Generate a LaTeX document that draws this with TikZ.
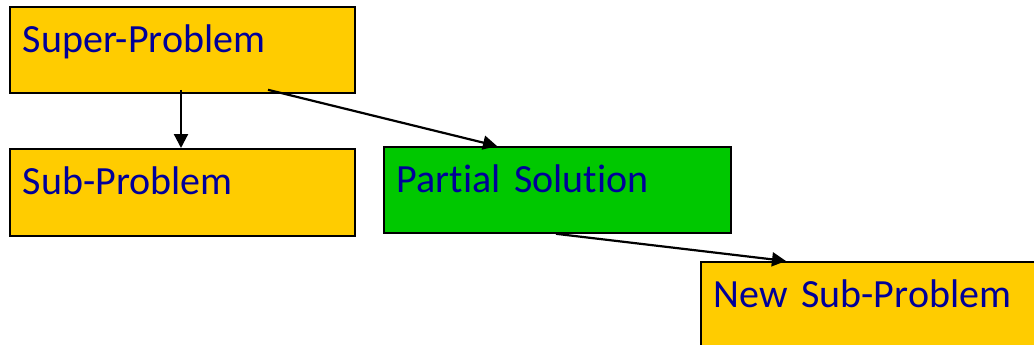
\documentclass[tikz,border=0pt]{standalone}
\usepackage{fontspec}
\setmainfont{Carlito}[Ligatures=CommonOff, WordSpace=0.65]
\usetikzlibrary{arrows.meta}
\definecolor{boxyellow}{RGB}{255,204,0}
\definecolor{boxgreen}{RGB}{0,200,0}
\definecolor{txtblue}{RGB}{0,0,153}
\tikzset{
  probbox/.style={draw=black, line width=1.8pt, anchor=north west, inner xsep=13pt, inner ysep=0pt,
    text height=46pt, text depth=40pt, align=left, text=txtblue,
    font=\fontsize{40}{48}\selectfont},
  arr/.style={draw=black, line width=2.2pt, -{Triangle[length=14pt,width=14pt]}}
}
\begin{document}
\begin{tikzpicture}[x=1pt,y=-1pt]
\useasboundingbox (0,0) rectangle (1034,345);
\clip (0,0) rectangle (1034,345);
\node[probbox, fill=boxyellow, text width=319pt] (sup) at (9,6) {Super-Problem};
\node[probbox, fill=boxyellow, text width=319pt, text depth=41pt] (sub) at (9,148) {Sub-Problem};
\node[probbox, fill=boxgreen, text width=321pt] (ps) at (383,146) {Partial Solution};
\node[probbox, fill=boxyellow, text width=321pt] (nsp) at (700,261) {New Sub-Problem};
\draw[arr] ([xshift=172pt,yshift=4pt]sup.south west) -- ([xshift=172pt]sub.north west);
\draw[arr] ([xshift=259pt,yshift=4pt]sup.south west) -- ([xshift=114pt]ps.north west);
\draw[arr] ([xshift=173pt]ps.south west) -- ([xshift=86pt]nsp.north west);
\end{tikzpicture}
\end{document}
